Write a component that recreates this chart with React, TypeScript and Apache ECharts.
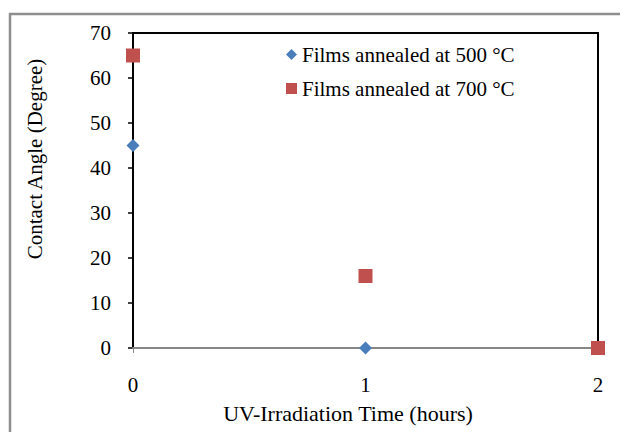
import React, { useEffect, useRef } from "react";
import * as echarts from "echarts";

const series500Name = "Films annealed at 500 °C";
const series700Name = "Films annealed at 700 °C";
const series500: [number, number][] = [
  [0, 45],
  [1, 0],
];
const series700: [number, number][] = [
  [0, 65],
  [1, 16],
  [2, 0],
];
const xTicks = { min: 0, max: 2, interval: 1 };
const yTicks = { min: 0, max: 70, interval: 10 };
const xName = "UV-Irradiation Time (hours)";
const yName = "Contact Angle (Degree)";

const FONT = "'Liberation Serif', 'Times New Roman', serif";
const FS = 21;

export default function App() {
  const ref = useRef<HTMLDivElement>(null);
  useEffect(() => {
    if (!ref.current) return;
    const chart = echarts.init(ref.current, null, { renderer: "svg" });
    chart.setOption({
      animation: false,
      backgroundColor: "#fff",
      textStyle: { fontFamily: FONT },
      grid: { left: 125, top: 25, right: 30, bottom: 84, show: false },
      legend: {
        orient: "vertical",
        left: 273,
        top: 31,
        itemWidth: 11,
        itemHeight: 11,
        itemGap: 13,
        textStyle: { fontFamily: FONT, fontSize: FS, color: "#000" },
        data: [
          { name: series500Name, icon: "diamond" },
          { name: series700Name, icon: "rect" },
        ],
      },
      xAxis: [
        {
          type: "value",
          min: xTicks.min,
          max: xTicks.max,
          interval: xTicks.interval,
          position: "bottom",
          axisLine: { show: true, lineStyle: { color: "#878787", width: 2 } },
          axisTick: { show: true, length: 5, lineStyle: { color: "#878787", width: 1 } },
          axisLabel: { margin: 26, fontSize: FS, color: "#000", fontFamily: FONT },
          splitLine: { show: false },
          z: 1,
        },
        {
          type: "value",
          min: xTicks.min,
          max: xTicks.max,
          position: "top",
          axisLine: { show: true, onZero: false, lineStyle: { color: "#000", width: 2 } },
          axisTick: { show: false },
          axisLabel: { show: false },
          splitLine: { show: false },
        },
      ],
      yAxis: [
        {
          type: "value",
          min: yTicks.min,
          max: yTicks.max,
          interval: yTicks.interval,
          position: "left",
          axisLine: { show: true, lineStyle: { color: "#000", width: 2 } },
          axisTick: { show: true, length: 5, lineStyle: { color: "#000", width: 1.5 } },
          axisLabel: { margin: 22, fontSize: FS, color: "#000", fontFamily: FONT },
          splitLine: { show: false },
        },
        {
          type: "value",
          min: yTicks.min,
          max: yTicks.max,
          position: "right",
          axisLine: { show: true, onZero: false, lineStyle: { color: "#000", width: 2 } },
          axisTick: { show: false },
          axisLabel: { show: false },
          splitLine: { show: false },
        },
      ],
      series: [
        {
          name: series500Name,
          type: "scatter",
          symbol: "diamond",
          symbolSize: 13,
          itemStyle: { color: "#4A7EBB", opacity: 1 },
          data: series500,
          z: 5,
        },
        {
          name: series700Name,
          type: "scatter",
          symbol: "rect",
          symbolSize: 14,
          itemStyle: { color: "#C0504D", opacity: 1 },
          data: series700,
          z: 5,
        },
      ],
      graphic: [
        {
          type: "rect",
          shape: { x: 2, y: 6, width: 700, height: 500 },
          style: { fill: "none", stroke: "#8e8e8e", lineWidth: 2.5 },
          silent: true,
          z: -1,
        },
        {
          type: "text",
          x: 340,
          y: 405,
          style: {
            text: xName,
            fontFamily: FONT,
            fontSize: 22,
            fill: "#000",
            align: "center",
            verticalAlign: "middle",
          },
        },
        {
          type: "text",
          x: 27,
          y: 151,
          rotation: Math.PI / 2,
          style: {
            text: yName,
            fontFamily: FONT,
            fontSize: 21,
            fill: "#000",
            align: "center",
            verticalAlign: "middle",
          },
        },
      ],
    });
    return () => chart.dispose();
  }, []);
  return <div ref={ref} style={{ width: 620, height: 424 }} />;
}
